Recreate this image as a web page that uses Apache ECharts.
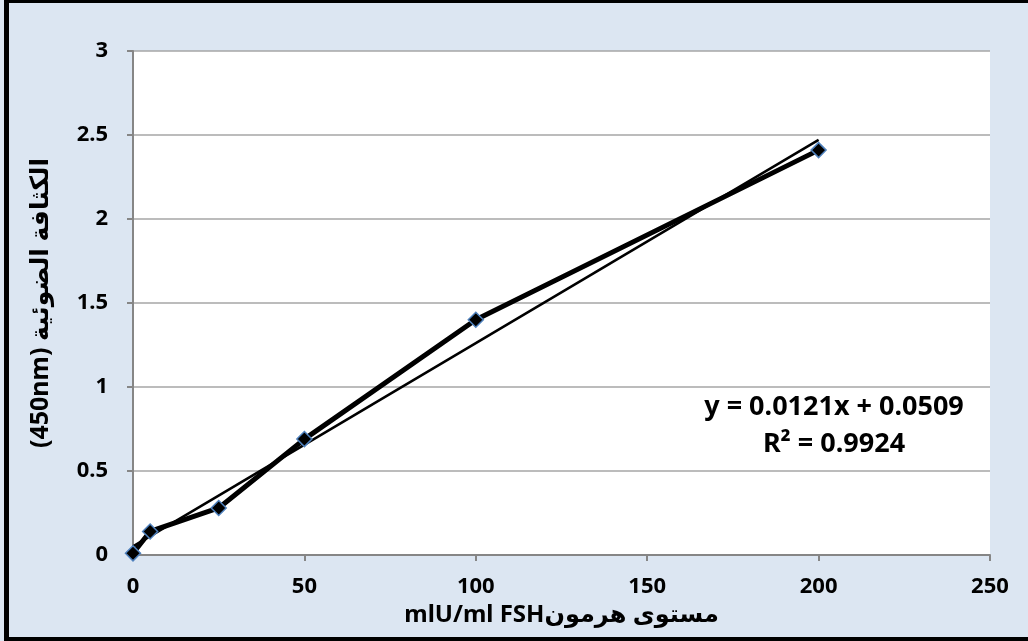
<!DOCTYPE html>
<html>
<head>
<meta charset="utf-8">
<script src="https://cdn.jsdelivr.net/npm/echarts@6/dist/echarts.min.js"></script>
<style>
  html, body { margin: 0; padding: 0; overflow: hidden; background: #dce6f2; width: 100%; height: 100%; }
  #chart { position: absolute; left: 0; top: 0; width: 100%; height: 100%; }
  #frame {
    position: absolute; left: 4px; top: 0; right: 0; bottom: 0;
    border-top: 3px solid #000; border-left: 5px solid #000; border-bottom: 4px solid #000;
    border-right: none; pointer-events: none;
  }
</style>
</head>
<body>
<div id="chart"></div>
<div id="frame"></div>
<script>
// FSH standard curve
const concentrations = [0, 5, 25, 50, 100, 200];
const absorbance = [0.01, 0.14, 0.28, 0.69, 1.40, 2.41];

// trendline from the equation shown on the chart
const slope = 0.0121;
const intercept = 0.0509;
const trendX = [0, 200];

const xTicks = { min: 0, max: 250, interval: 50 };
const yTicks = { min: 0, max: 3, interval: 0.5 };

const font = "'Noto Sans', 'DejaVu Sans', sans-serif";

const chart = echarts.init(document.getElementById("chart"));

const option = {
  backgroundColor: "#dce6f2",
  animation: false,
  textStyle: { fontFamily: font },
  grid: {
    left: 133,
    top: 51,
    right: 38,
    bottom: 86,
    show: true,
    backgroundColor: "#ffffff",
    borderWidth: 0
  },
  xAxis: {
    type: "value",
    min: xTicks.min,
    max: xTicks.max,
    interval: xTicks.interval,
    name: "mlU/ml FSHمستوى هرمون",
    nameLocation: "middle",
    nameGap: 46,
    nameTextStyle: { fontSize: 24, fontWeight: "bold", color: "#000", fontFamily: font },
    axisLine: { show: true, lineStyle: { color: "#868686", width: 2 } },
    axisTick: { show: true, length: 6, lineStyle: { color: "#868686", width: 2 } },
    axisLabel: { fontSize: 22, fontWeight: "bold", color: "#000", margin: 21, fontFamily: font },
    splitLine: { show: false }
  },
  yAxis: {
    type: "value",
    min: yTicks.min,
    max: yTicks.max,
    interval: yTicks.interval,
    name: "(450nm) الكثافة الضوئية",
    nameLocation: "middle",
    nameRotate: 90,
    nameGap: 80,
    nameTextStyle: { fontSize: 25, fontWeight: "bold", color: "#000", fontFamily: font },
    axisLine: { show: true, lineStyle: { color: "#868686", width: 2 } },
    axisTick: { show: true, length: 6, lineStyle: { color: "#868686", width: 2 } },
    axisLabel: { fontSize: 22, fontWeight: "bold", color: "#000", margin: 25, fontFamily: font },
    splitLine: { show: true, lineStyle: { color: "#a6a6a6", width: 1.5 } }
  },
  series: [
    {
      name: "trend",
      type: "line",
      data: trendX.map(x => [x, slope * x + intercept]),
      showSymbol: false,
      symbol: "none",
      lineStyle: { color: "#000", width: 2.5 },
      z: 2
    },
    {
      name: "FSH",
      type: "line",
      data: concentrations.map((c, i) => [c, absorbance[i]]),
      symbol: "diamond",
      symbolSize: 15,
      itemStyle: { color: "#000", borderColor: "#4f81bd", borderWidth: 1.5 },
      lineStyle: { color: "#000", width: 5 },
      z: 3
    }
  ],
  graphic: [
    {
      type: "text",
      x: 834,
      y: 407,
      style: {
        text: "y = 0.0121x + 0.0509",
        font: "bold 27px " + font,
        fill: "#000",
        align: "center",
        verticalAlign: "middle"
      }
    },
    {
      type: "text",
      x: 834,
      y: 444,
      style: {
        text: "R² = 0.9924",
        font: "bold 27px " + font,
        fill: "#000",
        align: "center",
        verticalAlign: "middle"
      }
    }
  ]
};

chart.setOption(option);
</script>
</body>
</html>
